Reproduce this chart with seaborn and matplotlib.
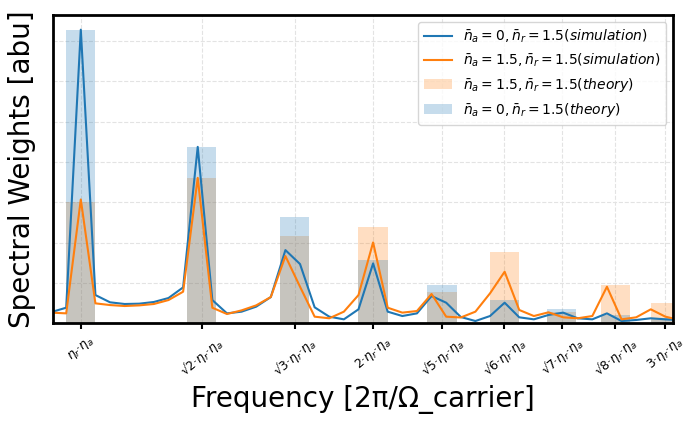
import numpy as np
import matplotlib
matplotlib.use("Agg")
import matplotlib.pyplot as plt
import seaborn as sns
from matplotlib.lines import Line2D

# ---- data ----
freq = [0.90, 0.95, 1.00, 1.05, 1.10, 1.15, 1.20, 1.25, 1.30, 1.35,
        1.40, 1.45, 1.50, 1.55, 1.60, 1.65, 1.70, 1.75, 1.80, 1.85,
        1.90, 1.95, 2.00, 2.05, 2.10, 2.15, 2.20, 2.25, 2.30, 2.35,
        2.40, 2.45, 2.50, 2.55, 2.60, 2.65, 2.70, 2.75, 2.80, 2.85,
        2.90, 2.95, 3.00, 3.05]

sim_na0 = [0.0140, 0.0193, 0.3638, 0.0350, 0.0260, 0.0239, 0.0243, 0.0264, 0.0313, 0.0445,
           0.2186, 0.0288, 0.0123, 0.0144, 0.0206, 0.0325, 0.0907, 0.0734, 0.0198, 0.0082,
           0.0049, 0.0173, 0.0742, 0.0144, 0.0090, 0.0123, 0.0338, 0.0255, 0.0078, 0.0028,
           0.0090, 0.0255, 0.0074, 0.0049, 0.0103, 0.0132, 0.0062, 0.0049, 0.0123, 0.0028,
           0.0041, 0.0062, 0.0049, 0.0040]

sim_na15 = [0.0132, 0.0123, 0.1534, 0.0247, 0.0226, 0.0214, 0.0222, 0.0239, 0.0288, 0.0391,
            0.1802, 0.0193, 0.0115, 0.0160, 0.0222, 0.0325, 0.0833, 0.0453, 0.0082, 0.0062,
            0.0144, 0.0350, 0.1002, 0.0193, 0.0132, 0.0152, 0.0363, 0.0082, 0.0072, 0.0144,
            0.0371, 0.0639, 0.0165, 0.0090, 0.0136, 0.0074, 0.0062, 0.0090, 0.0453, 0.0049,
            0.0074, 0.0173, 0.0082, 0.0040]

harmonics = [1, 2, 3, 4, 5, 6, 7, 8, 9]
theory_na0 = [0.363, 0.218, 0.132, 0.0783, 0.0474, 0.0288, 0.0173, 0.0103, 0.0062]
theory_na15 = [0.150, 0.180, 0.108, 0.1196, 0.0387, 0.0882, 0.0144, 0.0474, 0.0255]

tick_labels = [r"$\eta_r$·$\eta_a$", r"√2·$\eta_r$·$\eta_a$", r"√3·$\eta_r$·$\eta_a$",
               r"2·$\eta_r$·$\eta_a$", r"√5·$\eta_r$·$\eta_a$", r"√6·$\eta_r$·$\eta_a$",
               r"√7·$\eta_r$·$\eta_a$", r"√8·$\eta_r$·$\eta_a$", r"3·$\eta_r$·$\eta_a$"]

legend_labels = [r"$\bar{n}_a = 0, \bar{n}_r = 1.5 (simulation)$",
                 r"$\bar{n}_a = 1.5, \bar{n}_r = 1.5 (simulation)$",
                 r"$\bar{n}_a = 1.5, \bar{n}_r = 1.5 (theory)$",
                 r"$\bar{n}_a = 0, \bar{n}_r = 1.5 (theory)$"]

C_BLUE = "#1f77b4"
C_ORANGE = "#ff7f0e"

fig = plt.figure(figsize=(6.98, 4.26), dpi=100)
ax = fig.add_axes([0.0764, 0.2411, 0.8882, 0.7237])

pos = np.sqrt(harmonics)
bar_w = 0.1
rel_w = bar_w / np.min(np.diff(pos))

sns.barplot(x=pos, y=theory_na15, native_scale=True, width=rel_w, color=C_ORANGE,
            alpha=0.25, saturation=1, errorbar=None, ax=ax, linewidth=0)
sns.barplot(x=pos, y=theory_na0, native_scale=True, width=rel_w, color=C_BLUE,
            alpha=0.25, saturation=1, errorbar=None, ax=ax, linewidth=0)
sns.lineplot(x=freq, y=sim_na0, color=C_BLUE, lw=1.5, ax=ax)
sns.lineplot(x=freq, y=sim_na15, color=C_ORANGE, lw=1.5, ax=ax)

ax.set_xlim(0.906, 3.027)
ax.set_ylim(0, 0.382)

ax.set_xticks(pos)
ax.set_xticklabels(tick_labels, rotation=40, ha="center", fontsize=9)
ax.set_yticks(np.arange(0, 0.36, 0.05))
ax.set_yticklabels([])
ax.tick_params(axis="y", length=0)
ax.tick_params(axis="x", length=4, width=1.5, color="black")

ax.set_axisbelow(True)
ax.grid(True, linestyle="--", color="#e3e3e3", linewidth=0.8)

for s in ax.spines.values():
    s.set_linewidth(2)
    s.set_color("black")

ax.set_xlabel("Frequency [2π/Ω_carrier]", fontsize=20, labelpad=4)
ax.set_ylabel("Spectral Weights [abu]", fontsize=20, labelpad=9)

handles = [Line2D([], [], color=C_BLUE, lw=1.5),
           Line2D([], [], color=C_ORANGE, lw=1.5),
           ax.containers[0], ax.containers[1]]
ax.legend(handles, legend_labels, loc="upper right", fontsize=10, framealpha=0.8)

fig.savefig("out.png", dpi=100)
